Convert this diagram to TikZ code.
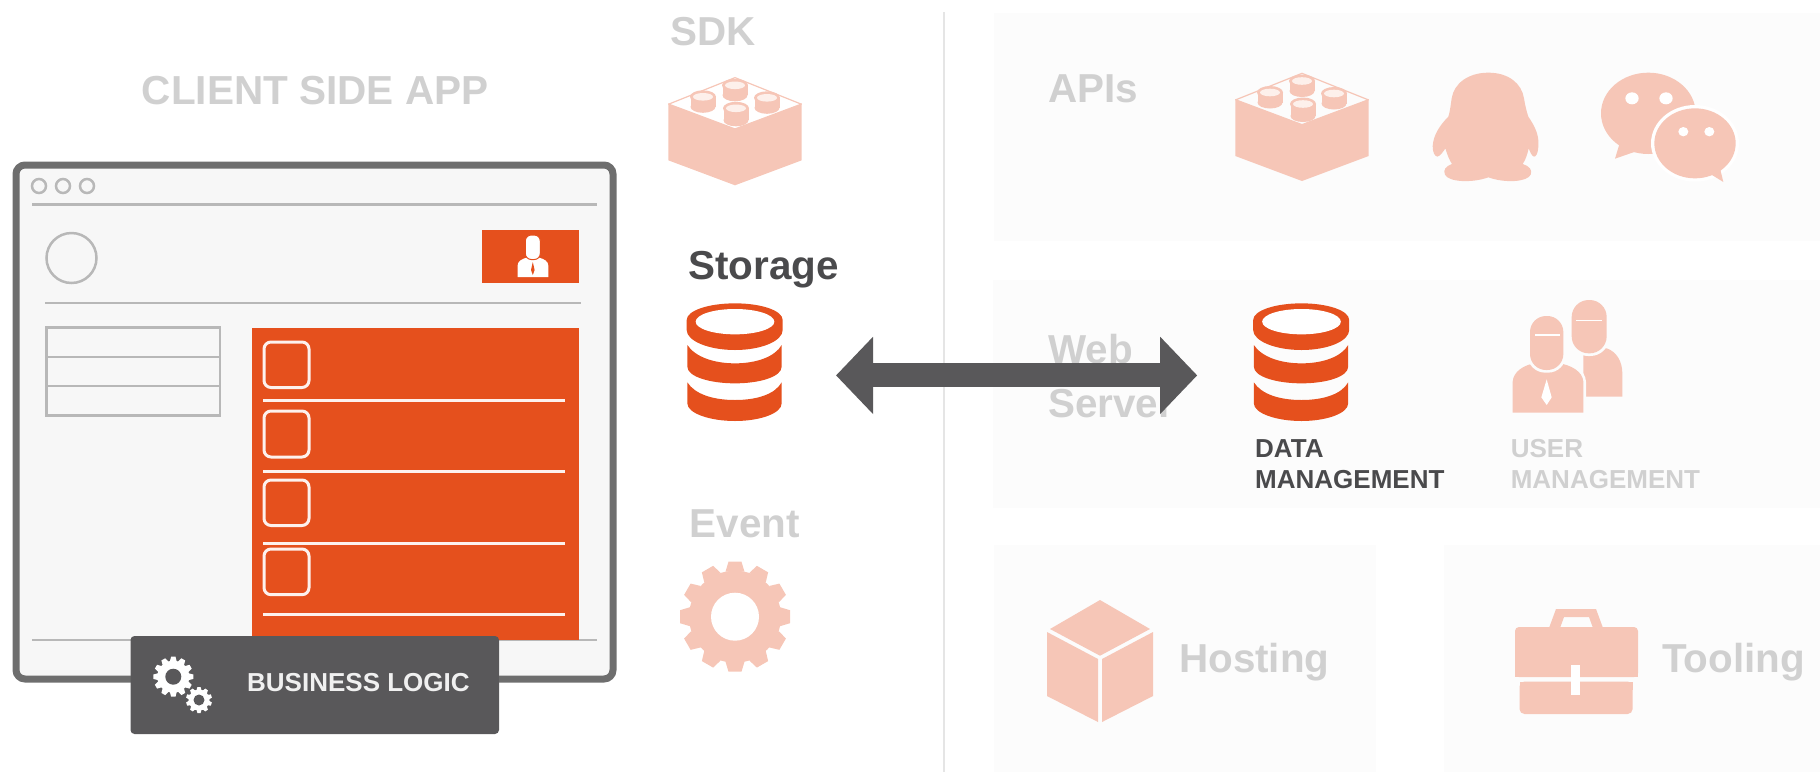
\documentclass[tikz,border=0pt]{standalone}
\usepackage{fontspec}
\setmainfont{Liberation Sans}
\usetikzlibrary{arrows.meta}

\definecolor{fadegray}{HTML}{D0D0D0}
\definecolor{inkgray}{HTML}{4A4A4C}
\definecolor{darkbox}{HTML}{59585A}
\definecolor{framegray}{HTML}{6E6E6E}
\definecolor{rulegray}{HTML}{B8B8B8}
\definecolor{pagegray}{HTML}{F7F7F7}
\definecolor{panelgray}{HTML}{FCFCFC}
\definecolor{brandorange}{HTML}{E5501D}
\definecolor{salmon}{HTML}{F6C6B7}
\definecolor{studtop}{HTML}{FDF0EB}

\tikzset{
  fadedlabel/.style={anchor=base west, inner sep=0pt, text=fadegray, font=\bfseries\fontsize{40.4}{44}\selectfont},
  inklabel/.style={fadedlabel, text=inkgray},
  smallfaded/.style={fadedlabel, font=\bfseries\fontsize{26}{32}\selectfont},
  smallink/.style={smallfaded, text=inkgray},
  iconspace/.style={inner sep=0pt, outer sep=0pt, minimum width=96pt, minimum height=119pt},
  panel/.style={fill=panelgray, draw=none},
  thinrule/.style={draw=rulegray, line width=2.5pt},
  whiterule/.style={draw=white!92!brandorange, line width=3pt},
  checkbox/.style={draw=white!92!brandorange, line width=3pt, rounded corners=7pt},
  % icons, drawn in the pixels of the crop they were measured in
  brick/.pic={
    \draw[salmon, line width=1.2pt] (-66.7,1) -- (0,-25.7) -- (66.7,1);
    \fill[salmon] (-66.7,0) -- (0,25) -- (66.7,0) -- (66.7,57) -- (0,82) -- (-66.7,57) -- cycle;
    \foreach \sx/\sy/\sh in {0/-18/10, -32/-6.5/10, 32/-5.5/10, 1/5/12} {
      \fill[salmon] (\sx-12.5,\sy) rectangle (\sx+12.5,\sy+\sh);
      \fill[salmon] (\sx,\sy+\sh) ellipse (12.5 and 6);
      \fill[salmon] (\sx,\sy) ellipse (13 and 6.5);
      \fill[studtop] (\sx,\sy) ellipse (10 and 3.8);
    }
  },
  dbicon/.pic={
    \begin{scope}[scale=1/3]
    \fill[brandorange] (20,75) .. controls (20,47) and (85,25) .. (165,25) .. controls (245,25) and (308,47) .. (308,75)
      -- (308,105) .. controls (308,138) and (244,165) .. (165,165) .. controls (86,165) and (20,138) .. (20,105) -- cycle;
    \fill[white] (165,80) ellipse (118 and 38);
    \fill[brandorange] (22,150) .. controls (45,185) and (100,205) .. (165,205) .. controls (230,205) and (285,185) .. (305,150)
      -- (305,215) .. controls (305,245) and (240,265) .. (165,265) .. controls (90,265) and (22,245) .. (22,215) -- cycle;
    \fill[brandorange] (22,262) .. controls (45,298) and (100,315) .. (165,315) .. controls (230,315) and (285,298) .. (305,262)
      -- (305,325) .. controls (305,355) and (240,378) .. (165,378) .. controls (90,378) and (22,355) .. (22,325) -- cycle;
    \end{scope}
  },
  gearicon/.pic={
    % r: \gearouter, \gearroot, \gearhole; \gearteeth teeth
    \fill[\gearfill] (0,0) circle (\gearroot);
    \pgfmathsetmacro{\gearstep}{360/\gearteeth}
    \foreach \tooth in {1,...,\gearteeth} {
      \fill[\gearfill, rotate=\tooth*\gearstep] (-\gearbase,-\gearroot+1) -- (-\geartip,-\gearouter) -- (\geartip,-\gearouter) -- (\gearbase,-\gearroot+1) -- cycle;
    }
    \fill[\gearback] (0,0) circle (\gearhole);
  },
}

\begin{document}
\begin{tikzpicture}[x=1pt, y=-1pt]
\useasboundingbox (0,0) rectangle (1820,772);

% panels on the right
\fill[panel] (994,13) rectangle (1820,241);
\fill[panel] (993,280) rectangle (1820,508);
\fill[panel] (994,545) rectangle (1376,772);
\fill[panel] (1444,545) rectangle (1820,772);
\draw[draw=black!10, line width=1.5pt] (944,12) -- (944,772);

% client side app
\node[fadedlabel, font=\bfseries\fontsize{40.5}{46}\selectfont] (clientlabel) at (141.6,104) {CLIENT SIDE APP};
\node[draw=framegray, fill=pagegray, line width=7pt, rounded corners=9pt, minimum width=597pt, minimum height=514pt, inner sep=0pt] (appwindow) at (314.5,422) {};
\foreach \cx in {39,63,87}
  \draw[draw=rulegray, line width=2.5pt] (\cx,186) circle (7);
\draw[thinrule] (32,204.5) -- (597,204.5);
\draw[thinrule] (71.5,258) circle (25);
\draw[thinrule] (45,303) -- (581,303);
\draw[thinrule] (32,640) -- (597,640);

% small table
\draw[thinrule] (46.6,327.4) rectangle (220,415.6);
\draw[thinrule] (46.6,357) -- (220,357);
\draw[thinrule] (46.6,386) -- (220,386);

% user button
\node[fill=brandorange, minimum width=97pt, minimum height=53pt, inner sep=0pt] (userbutton) at (530.5,256.5) {};
\fill[white] (517.5,277) -- (517.5,266) .. controls (517.5,261) and (522,259) .. (527,257.5) -- (538.5,257.5) .. controls (544,259) and (548.4,261) .. (548.4,266) -- (548.4,277) -- cycle;
\fill[white, draw=brandorange, line width=1pt, rounded corners=6pt] (525.3,235) rectangle (540.3,259.5);
\fill[brandorange] (532.8,262) -- (534.6,270) -- (532.8,275) -- (531,270) -- cycle;

% list
\node[fill=brandorange, minimum width=327.5pt, minimum height=312pt, inner sep=0pt] (listbox) at (415.25,484) {};
\foreach \ya/\yb in {342/387.5, 411/457, 480/525.5, 549/594.7}
  \draw[checkbox] (264,\ya) rectangle (309,\yb);
\foreach \yl in {400,471,543,614}
  \draw[whiterule] (263,\yl) -- (564.5,\yl);

% business logic
\node[fill=darkbox, rounded corners=4pt, minimum width=368.5pt, minimum height=98pt, inner sep=0pt] (logicbox) at (314.75,685) {};
\def\gearfill{white}\def\gearback{darkbox}
\def\gearouter{20}\def\gearroot{16}\def\gearhole{8}\def\gearteeth{12}\def\gearbase{3.5}\def\geartip{2.2}
\pic at (173.3,676.7) {gearicon};
\def\gearouter{13}\def\gearroot{10.5}\def\gearhole{5.5}\def\gearteeth{10}\def\gearbase{2.6}\def\geartip{1.6}
\pic at (199,700) {gearicon};
\node[anchor=base west, inner sep=0pt, text=white!94!black, font=\bfseries\fontsize{26}{30}\selectfont] (logiclabel) at (247,691.6) {BUSINESS LOGIC};

% sdk, storage, event
\node[fadedlabel] (sdklabel) at (670,45.7) {SDK};
\pic at (735,103.3) {brick};
\node[inklabel] (storagelabel) at (688,279) {Storage};
\node[iconspace] (storagedb) at (735.5,362.4) {};
\pic at (680,295) {dbicon};
\node[fadedlabel] (eventlabel) at (689.6,537) {Event};
\def\gearfill{salmon}\def\gearback{white}
\def\gearouter{55}\def\gearroot{46}\def\gearhole{24}\def\gearteeth{12}\def\gearbase{9.5}\def\geartip{6.5}
\pic at (735,616.7) {gearicon};

% apis
\node[fadedlabel] (apislabel) at (1048,102) {APIs};
\pic at (1302,99) {brick};
\begin{scope}[shift={(1420,60)}, scale=1/3]
  \fill[salmon] (205,38) .. controls (265,38) and (305,70) .. (312,115)
    .. controls (316,140) and (320,155) .. (325,170) .. controls (345,200) and (358,225) .. (355,260)
    .. controls (354,280) and (348,290) .. (342,290) .. controls (335,288) and (330,275) .. (326,265)
    .. controls (322,285) and (316,300) .. (308,312) .. controls (328,318) and (338,330) .. (332,344)
    .. controls (322,366) and (255,370) .. (205,352) .. controls (155,370) and (85,366) .. (75,344)
    .. controls (68,330) and (78,318) .. (96,312) .. controls (88,300) and (82,285) .. (76,265)
    .. controls (70,275) and (60,288) .. (52,290) .. controls (44,288) and (38,278) .. (38,258)
    .. controls (40,225) and (60,195) .. (85,170) .. controls (90,155) and (92,135) .. (95,115)
    .. controls (102,70) and (145,38) .. (205,38) -- cycle;
  % chat bubbles
  \fill[salmon] (685,160) ellipse (142 and 122);
  \fill[salmon] (602,240) -- (585,296) -- (660,270) -- cycle;
  \fill[white] (636,115) ellipse (20 and 18);
  \fill[white] (738,115) ellipse (20 and 18);
  \fill[white] (825,250) ellipse (132 and 115);
  \fill[salmon] (825,250) ellipse (122 and 105);
  \fill[salmon] (868,340) -- (910,366) -- (900,325) -- cycle;
  \fill[white] (790,215) ellipse (15 and 14);
  \fill[white] (868,215) ellipse (15 and 14);
\end{scope}

% web server
\node[fadedlabel] (weblabel) at (1048,363) {Web};
\node[fadedlabel] (serverlabel) at (1048,417) {Server};
\node[iconspace] (datadb) at (1301.5,362.4) {};
\pic at (1246.5,295) {dbicon};
\node[smallink] (datalabel) at (1255,457) {DATA};
\node[smallink] (datalabelb) at (1255,488) {MANAGEMENT};

% users
\begin{scope}[shift={(1500,290)}, scale=1/3]
  \fill[salmon] (250,170) -- (320,175) .. controls (350,185) and (367,215) .. (367,250) -- (367,320) -- (250,320) -- cycle;
  \fill[panelgray, rounded corners=19pt] (207,22) rectangle (328,198);
  \fill[salmon, rounded corners=17pt] (215,30) rectangle (320,190);
  \draw[draw=white, line width=1.5pt] (228,92) -- (305,92);
  \fill[panelgray] (30,368) -- (30,275) .. controls (32,240) and (70,216) .. (110,210) -- (170,210) .. controls (220,216) and (256,240) .. (258,275) -- (258,368) -- cycle;
  \fill[salmon] (38,368) -- (38,275) .. controls (40,245) and (70,225) .. (110,218) -- (170,218) .. controls (215,225) and (248,245) .. (250,275) -- (250,368) -- cycle;
  \fill[panelgray, rounded corners=18pt] (82,70) rectangle (198,248);
  \fill[salmon, rounded corners=16pt] (90,78) rectangle (190,240);
  \draw[draw=white, line width=1.5pt] (105,135) -- (180,135);
  \fill[white] (140,268) -- (155,322) -- (140,345) -- (124,322) -- cycle;
\end{scope}
\node[smallfaded] (userlabel) at (1510.6,457) {USER};
\node[smallfaded] (userlabelb) at (1510.6,488) {MANAGEMENT};

% hosting
\fill[salmon] (1100,600) -- (1150,629) -- (1100,655.7) -- (1050,629) -- cycle;
\fill[salmon] (1047,632) -- (1098,659) -- (1098,722) -- (1047,696) -- cycle;
\fill[salmon] (1153,632) -- (1102,659) -- (1102,722) -- (1153,696) -- cycle;
\node[fadedlabel] (hostinglabel) at (1179,672) {Hosting};

% tooling
\fill[salmon, even odd rule] (1549,628) -- (1556,609) -- (1596,609) -- (1603,628) -- cycle (1560,628) -- (1564,617) -- (1589,617) -- (1593,628) -- cycle;
\fill[salmon, rounded corners=4pt] (1515,627) -- (1638,627) -- (1638,677) -- (1515,677) -- cycle;
\fill[salmon] (1515,670) rectangle (1638,677);
\fill[salmon, rounded corners=5pt] (1519.5,681.5) -- (1632.6,681.5) -- (1632.6,714) -- (1519.5,714) -- cycle;
\fill[salmon] (1519.5,681.5) rectangle (1632.6,690);
\fill[white] (1571.2,665) rectangle (1580.2,695);
\node[fadedlabel] (toolinglabel) at (1662,672) {Tooling};

% link between the two data icons
\draw[draw=darkbox, line width=24pt, {Triangle[length=37pt,width=75pt]}-{Triangle[length=37pt,width=75pt]}, shorten <=52.5pt, shorten >=56.3pt]
  ([yshift=-13pt]storagedb.east) -- ([yshift=-13pt]datadb.west);
\end{tikzpicture}
\end{document}
